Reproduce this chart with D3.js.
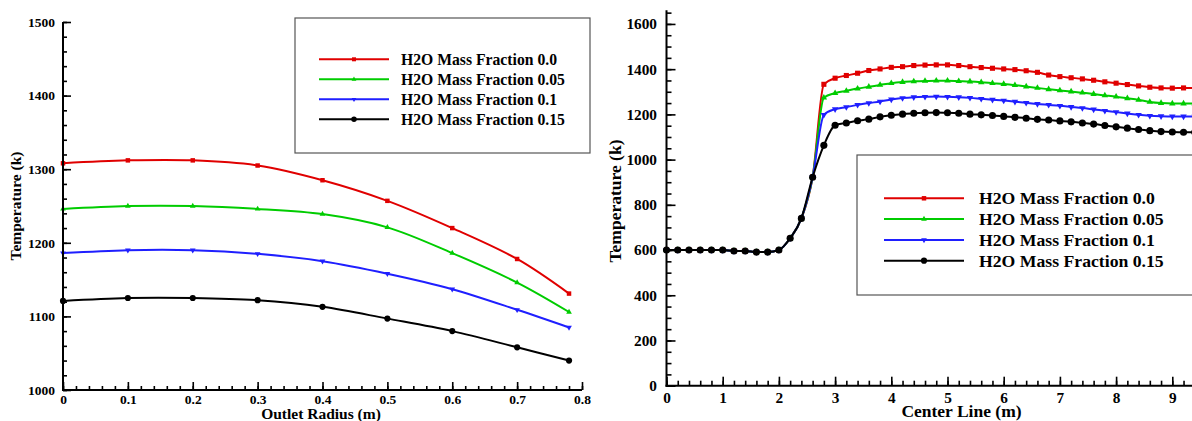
<!DOCTYPE html>
<html>
<head>
<meta charset="utf-8">
<script src="https://cdn.jsdelivr.net/npm/d3@7"></script>
<style>
  html, body { margin: 0; padding: 0; background: #fff; }
  svg { display: block; }
  text { font-family: "Liberation Serif", "Times New Roman", serif; font-weight: bold; fill: #000; }
</style>
</head>
<body>
<script>
// ---------------- DATA ----------------
const seriesNames = ["H2O Mass Fraction 0.0", "H2O Mass Fraction 0.05", "H2O Mass Fraction 0.1", "H2O Mass Fraction 0.15"];
const seriesColors = ["#e00000", "#00cc00", "#1f1fff", "#000000"];
const seriesSymbols = ["square", "triangleUp", "triangleDown", "circle"];

// Left chart: outlet radius (m) vs temperature (K)
const radius = [0, 0.1, 0.2, 0.3, 0.4, 0.5, 0.6, 0.7, 0.78];
const outletT00 = [1308, 1312, 1312, 1305, 1285, 1257, 1220, 1178, 1131];
const outletT05 = [1246, 1250, 1250, 1246, 1239, 1221, 1186, 1146, 1106];
const outletT10 = [1186, 1190, 1190, 1185, 1175, 1158, 1137, 1109, 1085];
const outletT15 = [1121, 1125, 1125, 1122, 1113, 1097, 1080, 1058, 1040];
const leftYTicks = [1000, 1100, 1200, 1300, 1400, 1500];
const leftXTicks = [0, 0.1, 0.2, 0.3, 0.4, 0.5, 0.6, 0.7, 0.8];

// Right chart: centre line (m) vs temperature (K)
const centerX = [0, 0.2, 0.4, 0.6, 0.8, 1.0, 1.2, 1.4, 1.6, 1.8, 2.0, 2.2, 2.4, 2.6,
  2.8, 3.0, 3.2, 3.4, 3.6, 3.8, 4.0, 4.2, 4.4, 4.6, 4.8, 5.0, 5.2, 5.4, 5.6, 5.8, 6.0,
  6.2, 6.4, 6.6, 6.8, 7.0, 7.2, 7.4, 7.6, 7.8, 8.0, 8.2, 8.4, 8.6, 8.8, 9.0, 9.2, 9.4];
// common inlet part (0 .. 2.6 m), identical for all four cases
const inletT = [600, 600, 600, 600, 600, 600, 596, 596, 591, 591, 600, 652, 740, 922];
const centerT00 = [1333, 1360, 1372, 1382, 1394, 1401, 1408, 1411, 1416, 1418, 1419, 1419, 1416, 1411, 1407, 1404, 1401,
  1398, 1393, 1386, 1374, 1367, 1362, 1357, 1351, 1344, 1338, 1332, 1326, 1320, 1317, 1316, 1317, 1317];
const centerT05 = [1274, 1294, 1304, 1314, 1322, 1330, 1338, 1343, 1346, 1348, 1349, 1349, 1347, 1345, 1342, 1338, 1334,
  1329, 1323, 1317, 1311, 1306, 1301, 1296, 1290, 1284, 1278, 1271, 1264, 1255, 1250, 1248, 1248, 1248];
const centerT10 = [1198, 1223, 1232, 1242, 1250, 1257, 1266, 1272, 1276, 1278, 1279, 1278, 1276, 1273, 1269, 1265, 1261,
  1256, 1251, 1246, 1242, 1238, 1233, 1228, 1222, 1216, 1210, 1204, 1198, 1194, 1192, 1191, 1191, 1191];
const centerT15 = [1063, 1152, 1162, 1172, 1179, 1189, 1196, 1201, 1205, 1207, 1208, 1207, 1205, 1201, 1198, 1195, 1191,
  1187, 1183, 1178, 1175, 1171, 1167, 1162, 1157, 1151, 1145, 1139, 1133, 1128, 1124, 1122, 1121, 1121];
const rightYTicks = [0, 200, 400, 600, 800, 1000, 1200, 1400, 1600];
const rightXTicks = [0, 1, 2, 3, 4, 5, 6, 7, 8, 9];

// ---------------- DRAW ----------------
const W = 1192, H = 421;
const svg = d3.select("body").append("svg").attr("width", W).attr("height", H);

function symbolPath(kind, size) {
  const t = kind === "square" ? d3.symbolSquare : kind === "circle" ? d3.symbolCircle : d3.symbolTriangle;
  return d3.symbol().type(t).size(size)();
}

function drawAxis(g, axis) {
  g.call(axis);
  g.attr("font-family", null).attr("font-size", null);
  g.select(".domain").remove();
  g.selectAll(".tick line").attr("stroke", "#000").attr("stroke-width", 1.6);
}

function chart(cfg) {
  const g = svg.append("g");
  const x = d3.scaleLinear().domain(cfg.xDomain).range(cfg.xRange);
  const y = d3.scaleLinear().domain(cfg.yDomain).range(cfg.yRange);

  // series
  const line = d3.line().x(d => x(d[0])).y(d => y(d[1])).curve(cfg.curve);
  cfg.series.forEach((vals, i) => {
    const pts = cfg.xs.map((xv, k) => [xv, vals[k]]);
    g.append("path").datum(pts)
      .attr("fill", "none").attr("stroke", seriesColors[i]).attr("stroke-width", 2)
      .attr("stroke-linejoin", "round")
      .attr("d", line);
    const kind = seriesSymbols[i];
    g.selectAll(null).data(pts).enter().append("path")
      .attr("d", symbolPath(kind, cfg.symSize[kind]))
      .attr("fill", seriesColors[i])
      .attr("transform", d => `translate(${x(d[0])},${y(d[1])})` + (kind === "triangleDown" ? " rotate(180)" : ""));
  });

  // axes: minor ticks
  drawAxis(g.append("g").attr("transform", `translate(${cfg.xRange[0]},0)`),
    d3.axisLeft(y).tickValues(cfg.yMinor).tickSize(-cfg.minorLen).tickFormat(""));
  drawAxis(g.append("g").attr("transform", `translate(0,${cfg.yRange[0]})`),
    d3.axisBottom(x).tickValues(cfg.xMinor).tickSize(-cfg.minorLen).tickFormat(""));
  // major ticks + labels
  const ya = g.append("g").attr("transform", `translate(${cfg.xRange[0]},0)`);
  drawAxis(ya, d3.axisLeft(y).tickValues(cfg.yTicks).tickSize(-cfg.majorLen).tickPadding(cfg.yPad).tickFormat(d3.format("d")));
  ya.selectAll("text").style("font-size", cfg.tickFont + "px");
  const xa = g.append("g").attr("transform", `translate(0,${cfg.yRange[0]})`);
  drawAxis(xa, d3.axisBottom(x).tickValues(cfg.xTicks).tickSize(-cfg.majorLen).tickPadding(cfg.xPad).tickFormat(cfg.xFormat));
  xa.selectAll("text").style("font-size", cfg.tickFont + "px");

  // axis lines
  g.append("line").attr("x1", cfg.xRange[0]).attr("x2", cfg.xRange[0])
    .attr("y1", cfg.yRange[0] + 1).attr("y2", cfg.yAxisTop).attr("stroke", "#000").attr("stroke-width", 2);
  g.append("line").attr("x1", cfg.xRange[0] - 1).attr("x2", cfg.xAxisEnd)
    .attr("y1", cfg.yRange[0]).attr("y2", cfg.yRange[0]).attr("stroke", "#000").attr("stroke-width", 2);

  // titles
  g.append("text").attr("x", cfg.xTitle[0]).attr("y", cfg.xTitle[1])
    .attr("text-anchor", "middle").style("font-size", cfg.titleFont + "px").text(cfg.xLabel);
  g.append("text").attr("transform", `translate(${cfg.yTitle[0]},${cfg.yTitle[1]}) rotate(-90)`)
    .attr("text-anchor", "middle").style("font-size", cfg.titleFont + "px").text("Temperature (k)");

  // legend
  const L = cfg.legend;
  g.append("rect").attr("x", L.x0).attr("y", L.y0).attr("width", L.x1 - L.x0).attr("height", L.y1 - L.y0)
    .attr("fill", "#fff").attr("stroke", "#555").attr("stroke-width", 1.2);
  seriesNames.forEach((name, i) => {
    const ry = L.rowY + i * L.rowGap;
    g.append("line").attr("x1", L.lx0).attr("x2", L.lx1).attr("y1", ry).attr("y2", ry)
      .attr("stroke", seriesColors[i]).attr("stroke-width", 2);
    const kind = seriesSymbols[i];
    g.append("path").attr("d", symbolPath(kind, L.symSize[kind])).attr("fill", seriesColors[i])
      .attr("transform", `translate(${(L.lx0 + L.lx1) / 2},${ry})` + (kind === "triangleDown" ? " rotate(180)" : ""));
    g.append("text").attr("x", L.tx).attr("y", ry + L.baseOff).style("font-size", L.font + "px").text(name);
  });
}

// Left chart
chart({
  xs: radius,
  series: [outletT00, outletT05, outletT10, outletT15],
  curve: d3.curveCatmullRom,
  xDomain: [0, 0.8], xRange: [63, 582],
  yDomain: [1000, 1500], yRange: [390, 22],
  yAxisTop: 22, xAxisEnd: 582,
  yTicks: leftYTicks, xTicks: leftXTicks,
  yMinor: d3.range(1000, 1501, 20), xMinor: d3.range(0, 0.801, 0.02),
  majorLen: 8, minorLen: 4, yPad: 8, xPad: 4.5, tickFont: 13.5,
  xFormat: d => d === 0 ? "0" : d3.format(".1f")(d),
  symSize: { square: 20, triangleUp: 14, triangleDown: 14, circle: 30 },
  titleFont: 15.5, xLabel: "Outlet Radius (m)", xTitle: [321, 418.5], yTitle: [21, 206],
  legend: { x0: 295, x1: 590, y0: 18, y1: 153, lx0: 319, lx1: 389, rowY: 59.3, rowGap: 20,
    tx: 401, baseOff: 5.7, font: 15.7, symSize: { square: 16, triangleUp: 10, triangleDown: 10, circle: 24 } }
});

// Right chart
const rightSeries = [centerT00, centerT05, centerT10, centerT15].map(s => inletT.concat(s));
chart({
  xs: centerX,
  series: rightSeries,
  curve: d3.curveMonotoneX,
  xDomain: [0, 9.4], xRange: [666.5, 666.5 + 9.4 * 56.2],
  yDomain: [0, 1660], yRange: [385.7, 385.7 - 1660 * 0.2261],
  yAxisTop: 385.7 - 1660 * 0.2261, xAxisEnd: 1192,
  yTicks: rightYTicks, xTicks: rightXTicks,
  yMinor: d3.range(0, 1651, 50), xMinor: d3.range(0, 9.41, 0.2),
  majorLen: 9, minorLen: 5, yPad: 9.5, xPad: 6.2, tickFont: 15.3,
  xFormat: d3.format("d"),
  symSize: { square: 26, triangleUp: 18, triangleDown: 18, circle: 40 },
  titleFont: 17.5, xLabel: "Center Line (m)", xTitle: [961.5, 417], yTitle: [621, 201],
  legend: { x0: 857, x1: 1230, y0: 155, y1: 295, lx0: 884, lx1: 964, rowY: 198.3, rowGap: 20.8,
    tx: 979, baseOff: 5.8, font: 17.7, symSize: { square: 20, triangleUp: 14, triangleDown: 14, circle: 30 } }
});
</script>
</body>
</html>
